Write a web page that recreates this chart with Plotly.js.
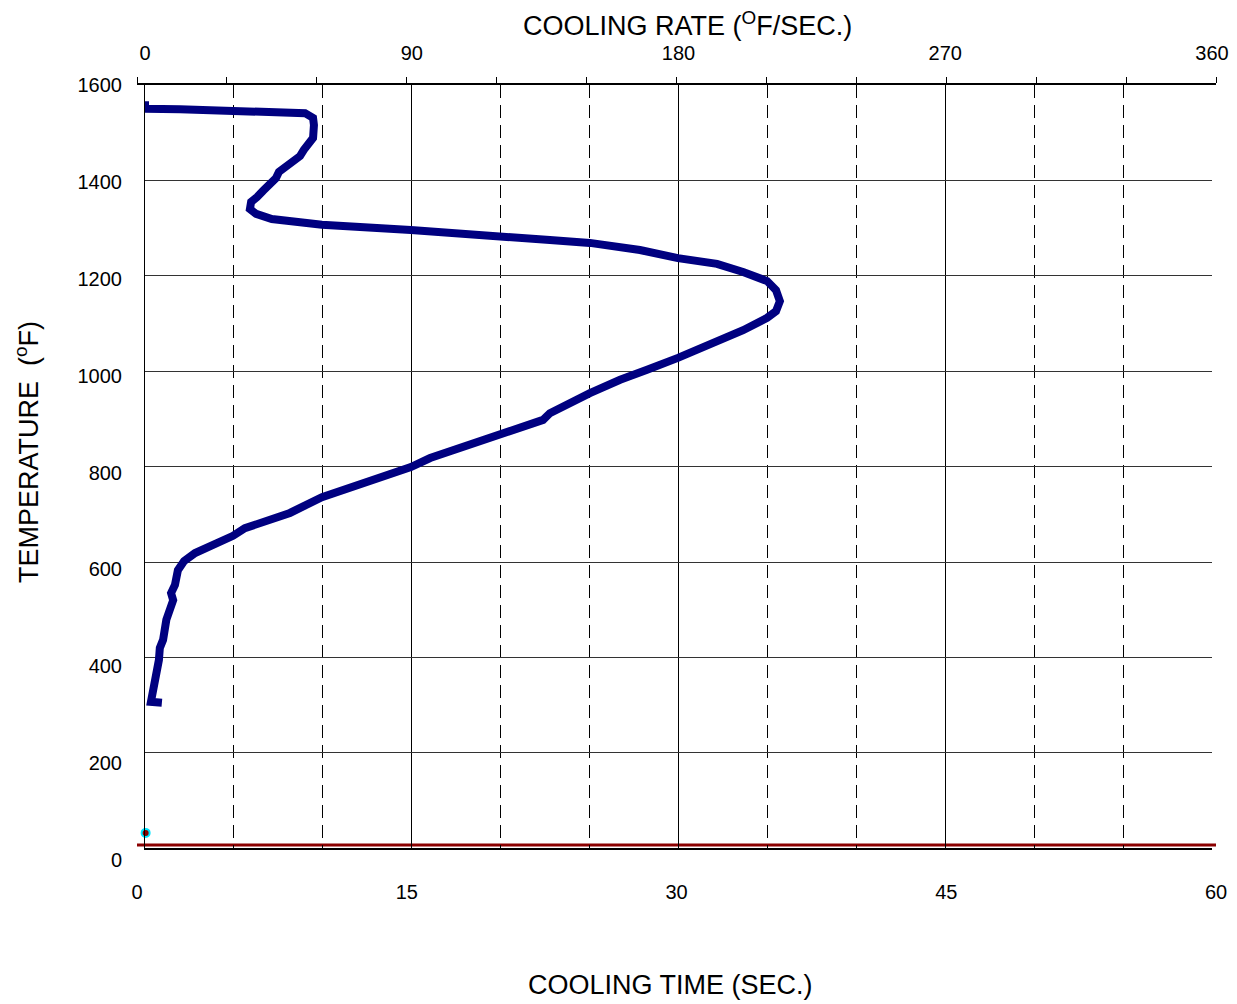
<!DOCTYPE html>
<html>
<head>
<meta charset="utf-8">
<script src="https://cdn.plot.ly/plotly-3.0.1.min.js"></script>
<style>html,body{margin:0;padding:0;background:#fff;}#chart{width:1237px;height:1004px;}</style>
</head>
<body>
<div id="chart"></div>
<script>
// Cooling-rate curve (top axis: cooling rate °F/sec, left: temperature °F)
const coolingRate = [0, 0, 11.8, 29.7, 48.9, 54.0, 56.7, 57.0, 56.7, 54.3, 53.6, 52.3, 49.6, 46.9, 45.2, 44.2,
  42.2, 39.8, 37.8, 35.8, 35.4, 37.5, 42.8, 59.7, 89.7, 106.3, 119.8, 136.6, 150.1, 167.0, 179.8, 193.0,
  201.8, 209.9, 212.9, 214.2, 212.9, 209.9, 201.8, 190.6, 179.8, 169.4, 160.3, 150.1, 136.6, 134.3, 119.8,
  102.9, 96.2, 89.7, 72.5, 59.7, 48.9, 33.7, 29.7, 23.6, 16.9, 13.2, 11.1, 10.1, 8.8, 9.5, 7.4, 7.2, 6.1, 5.0, 4.7, 3.7, 3.4, 2.7, 2.0, 5.7];
const rateTemp = [1566, 1550, 1549, 1547, 1544, 1541, 1531, 1516, 1489, 1472, 1464, 1451, 1439, 1430, 1418, 1405,
  1390, 1378, 1365, 1355, 1340, 1330, 1319, 1307, 1296, 1290, 1281, 1275, 1269, 1254, 1237, 1225,
  1208, 1189, 1170, 1147, 1126, 1112, 1086, 1055, 1028, 1003, 982, 954, 912, 898, 866,
  831, 818, 799, 762, 736, 703, 671, 655, 636, 619, 602, 583, 552, 535, 520, 490, 479, 437, 420, 395, 357, 345, 328, 307, 305];

// Cooling-time series (bottom axis: seconds)
const quenchTime = [0, 60];
const quenchTemp = [31, 31];
const startTime = [0.48];
const startTemp = [56];

// Tick labels
const timeTicks = [0, 15, 30, 45, 60];
const rateTicks = [0, 90, 180, 270, 360];
const rateMinor = [30, 60, 120, 150, 210, 240, 300, 330];
const tempTicks = [0, 200, 400, 600, 800, 1000, 1200, 1400, 1600];

const W = 1237, H = 1004;
const fx = p => p / W;
const fy = p => (H - p) / H;
const FONT = 'Liberation Sans, Arial, sans-serif';

const traces = [
  {x: quenchTime, y: quenchTemp, xaxis: 'x', yaxis: 'y', mode: 'lines',
   line: {color: '#8b0000', width: 3}, hoverinfo: 'skip', showlegend: false},
  {x: startTime, y: startTemp, xaxis: 'x3', yaxis: 'y', mode: 'markers',
   marker: {symbol: 'circle', size: 8, color: '#8b0000', line: {color: '#00e5ff', width: 2}},
   showlegend: false},
  {x: coolingRate, y: rateTemp, xaxis: 'x2', yaxis: 'y2', mode: 'lines',
   line: {color: '#000080', width: 8, shape: 'linear'}, showlegend: false}
];

const layout = {
  width: W, height: H,
  margin: {l: 0, r: 0, t: 0, b: 0},
  paper_bgcolor: '#ffffff',
  plot_bgcolor: 'rgba(0,0,0,0)',
  font: {family: FONT, size: 20, color: '#000'},
  showlegend: false,
  xaxis: {
    domain: [fx(137), fx(1216)], anchor: 'y', range: [0, 60],
    tickmode: 'array', tickvals: timeTicks, ticktext: timeTicks.map(String),
    showgrid: false, zeroline: false, showline: false, ticks: '',
    tickfont: {size: 20, color: '#000'}, ticklabelstandoff: 18
  },
  xaxis3: {
    overlaying: 'x', anchor: 'y', side: 'top', range: [0, 60], dtick: 5, tick0: 0,
    showticklabels: false, ticks: 'outside', ticklen: 6, tickwidth: 1, tickcolor: '#000',
    showline: true, linecolor: '#000', linewidth: 2, showgrid: false, zeroline: false
  },
  yaxis: {
    domain: [fy(860), fy(85)], anchor: 'x', range: [0, 1600],
    tickmode: 'array', tickvals: tempTicks, ticktext: tempTicks.map(String),
    showgrid: false, zeroline: false, showline: false, ticks: '',
    tickfont: {size: 20, color: '#000'}, ticklabelstandoff: 14
  },
  xaxis2: {
    domain: [fx(145), fx(1212)], anchor: 'y2', side: 'top', range: [0, 360],
    tickmode: 'array', tickvals: rateTicks, ticktext: rateTicks.map(String),
    showgrid: true, gridcolor: '#000', gridwidth: 1,
    minor: {tickmode: 'array', tickvals: rateMinor,
            showgrid: true, gridcolor: '#000', gridwidth: 1, griddash: '13px,7px', ticks: ''},
    showline: true, mirror: true, linecolor: '#000', linewidth: 1.5, zeroline: false, ticks: '',
    tickfont: {size: 20, color: '#000'}, ticklabelstandoff: 16
  },
  yaxis2: {
    domain: [fy(848.3), fy(85)], anchor: 'x2', range: [0, 1600], dtick: 200, tick0: 0,
    showgrid: true, gridcolor: '#333', gridwidth: 1, showticklabels: false, ticks: '',
    showline: true, linecolor: '#000', linewidth: 1.5, zeroline: false
  },
  annotations: [
    {text: 'COOLING RATE (<sup>O</sup>F/SEC.)', xref: 'paper', yref: 'paper',
     x: fx(687.5), y: fy(24), xanchor: 'center', yanchor: 'middle', showarrow: false,
     font: {family: FONT, size: 27, color: '#000'}},
    {text: 'COOLING TIME (SEC.)', xref: 'paper', yref: 'paper',
     x: fx(670), y: fy(985), xanchor: 'center', yanchor: 'middle', showarrow: false,
     font: {family: FONT, size: 27, color: '#000'}},
    {text: 'TEMPERATURE\u00a0 (<sup>o</sup>F)', xref: 'paper', yref: 'paper',
     x: fx(27), y: fy(452), xanchor: 'center', yanchor: 'middle', showarrow: false, textangle: -90,
     font: {family: FONT, size: 27, color: '#000'}}
  ]
};

Plotly.newPlot('chart', traces, layout, {displayModeBar: false, staticPlot: true});
</script>
</body>
</html>
